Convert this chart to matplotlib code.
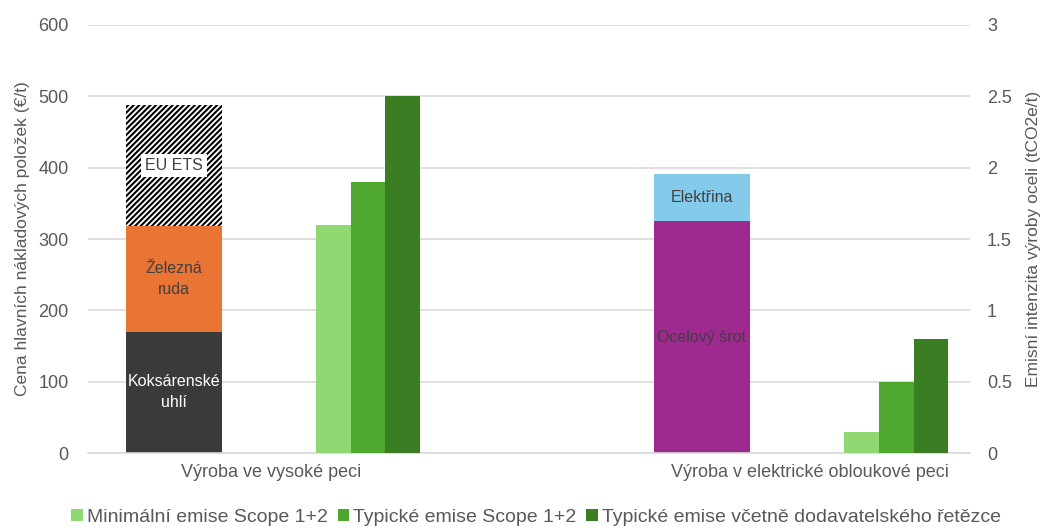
import numpy as np
import matplotlib.pyplot as plt

plt.rcParams['font.family'] = ['Liberation Sans', 'DejaVu Sans']
plt.rcParams['hatch.linewidth'] = 1.5

groups = ['Výroba ve vysoké peci', 'Výroba v elektrické obloukové peci']

# naklady (€/t), skladane sloupce
bf_parts = ['Koksárenské\nuhlí', 'Železná\nruda', 'EU ETS']
bf_costs = [170, 148, 170]
eaf_parts = ['Ocelový šrot', 'Elektřina']
eaf_costs = [325, 66]

# emise (tCO2e/t), prava osa
em_names = ['Minimální emise Scope 1+2', 'Typické emise Scope 1+2',
            'Typické emise včetně dodavatelského řetězce']
em_bf = [1.6, 1.9, 2.5]
em_eaf = [0.15, 0.5, 0.8]

grey = '#595959'
green_cols = ['#8FD872', '#4EA72E', '#3A7D22']

fig = plt.figure(figsize=(10.41, 5.30), dpi=100)
ax = fig.add_axes([0.0845, 0.145, 0.8475, 0.808])
ax2 = ax.twinx()

x = np.arange(len(groups))
sw = 0.182
gw = 0.0655
off_s = -0.184
off_g = 0.184

# vysoka pec
bottom = 0
bf_style = [dict(color='#3A3A3A'), dict(color='#EA7434'),
            dict(facecolor='white', edgecolor='black', hatch='//////', linewidth=0)]
bf_text = ['white', '#404040', '#404040']
for val, lab, st, tc in zip(bf_costs, bf_parts, bf_style, bf_text):
    ax.bar(x[0] + off_s, val, sw, bottom=bottom, zorder=2, **st)
    if lab == 'EU ETS':
        ax.text(x[0] + off_s, bottom + val / 2, lab, ha='center', va='center',
                fontsize=11.5, color=tc, zorder=4,
                bbox=dict(facecolor='white', edgecolor='none', pad=3))
    else:
        ax.text(x[0] + off_s, bottom + val / 2, lab, ha='center', va='center',
                fontsize=11.5, color=tc, zorder=4, linespacing=1.5)
    bottom += val

# elektricka oblukova pec
bottom = 0
for val, lab, c in zip(eaf_costs, eaf_parts, ['#9E2A8F', '#84CBEB']):
    ax.bar(x[1] + off_s, val, sw, bottom=bottom, color=c, zorder=2)
    ax.text(x[1] + off_s, bottom + val / 2, lab, ha='center', va='center',
            fontsize=11.5, color='#404040', zorder=4)
    bottom += val

# emise
handles = []
for i in range(3):
    pos = x + off_g + (i - 1) * gw
    h = ax2.bar(pos, [em_bf[i], em_eaf[i]], gw, color=green_cols[i], zorder=2,
                label=em_names[i])
    handles.append(h)

ax.set_xlim(-0.3466, 1.324)
ax.set_ylim(0, 600)
ax2.set_ylim(0, 3)
ax.set_yticks(np.arange(0, 601, 100))
ax2.set_yticks(np.arange(0, 3.01, 0.5))
ax2.set_yticklabels(['0', '0.5', '1', '1.5', '2', '2.5', '3'])
ax.set_xticks([x[0], x[1] + 0.02])
ax.set_xticklabels(groups)

ax.grid(axis='y', color='#D9D9D9', linewidth=1.2, zorder=0)
ax.set_axisbelow(True)
for a in (ax, ax2):
    for s in a.spines.values():
        s.set_visible(False)
    a.tick_params(length=0, labelsize=13, colors=grey)
ax.spines['bottom'].set_visible(True)
ax.spines['bottom'].set_color('#D9D9D9')
ax.spines['bottom'].set_linewidth(1.2)
ax.tick_params(axis='x', pad=8)
ax.tick_params(axis='y', pad=14)
ax2.tick_params(axis='y', pad=12)

ax.set_ylabel('Cena hlavních nákladových položek (€/t)', fontsize=12.5,
              color=grey, labelpad=6)
ax2.set_ylabel('Emisní intenzita výroby oceli (tCO2e/t)', fontsize=12.5,
               color=grey, rotation=90, labelpad=10)

fig.legend(handles=handles, labels=em_names, loc='lower center',
           bbox_to_anchor=(0.515, -0.025), ncol=3, frameon=False, fontsize=14,
           handlelength=0.6, handleheight=0.6, handletextpad=0.2,
           columnspacing=0.5, labelcolor=grey)

fig.savefig('out.png', dpi=100)
